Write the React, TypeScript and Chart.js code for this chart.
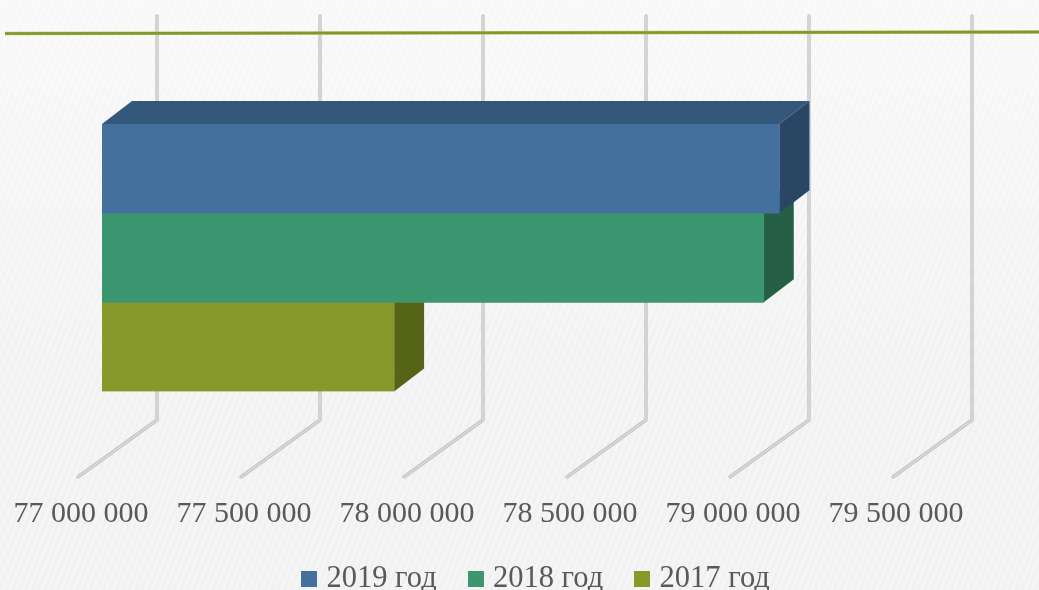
import React, { useEffect, useRef } from "react";
import { Chart, registerables } from "chart.js";

Chart.register(...registerables);

const categories = [""];
const seriesNames = ["2019 год", "2018 год", "2017 год"];
const values2019 = [79078000];
const values2018 = [79030000];
const values2017 = [77896000];
const axisMin = 77000000;
const axisMax = 79500000;
const axisStep = 500000;

const frontColors = ["#44709D", "#3C9770", "#86992A"];
const topColors = ["#34587A", "#2C7053", "#66751F"];
const sideColors = ["#294765", "#256046", "#566418"];

const DEPTH_X = 30;
const DEPTH_Y = 23;

const fmt = (v: number) => String(v).replace(/\B(?=(\d{3})+$)/g, " ");

const swatch = (color: string) => {
  const c = document.createElement("canvas");
  c.width = 16;
  c.height = 16;
  const g = c.getContext("2d") as CanvasRenderingContext2D;
  g.fillStyle = color;
  g.fillRect(0, 0, 16, 16);
  return c;
};

const decor = {
  id: "decor3d",
  afterLayout(chart: any) {
    // the legend is centred further right than the plot area
    chart.legend.left += 29;
    chart.legend.right += 29;
  },
  beforeDatasetsDraw(chart: any) {
    const { ctx, scales } = chart;
    const x = scales.x;
    ctx.save();
    ctx.lineCap = "round";
    ctx.lineJoin = "round";
    // wall and floor grid lines
    for (const t of x.ticks) {
      const px = x.getPixelForValue(t.value);
      const path = () => {
        ctx.beginPath();
        ctx.moveTo(px + 55, 16);
        ctx.lineTo(px + 55, 420);
        ctx.lineTo(px - 24, 477);
      };
      path();
      ctx.strokeStyle = "#c4c4c4";
      ctx.lineWidth = 3.4;
      ctx.stroke();
      path();
      ctx.strokeStyle = "#dcdcdc";
      ctx.lineWidth = 1.4;
      ctx.stroke();
    }
    // decorative rule
    ctx.lineCap = "butt";
    ctx.beginPath();
    ctx.moveTo(5, 33.5);
    ctx.lineTo(1039, 32);
    ctx.strokeStyle = "#B5C47A";
    ctx.lineWidth = 3.6;
    ctx.stroke();
    ctx.beginPath();
    ctx.moveTo(5, 33.5);
    ctx.lineTo(1039, 32);
    ctx.strokeStyle = "#7F9A25";
    ctx.lineWidth = 2.4;
    ctx.stroke();

    // 3D faces of bars, back to front
    for (let i = chart.data.datasets.length - 1; i >= 0; i--) {
      const el = chart.getDatasetMeta(i).data[0] as any;
      const left = x.left;
      const right = el.x;
      const top = el.y - el.height / 2;
      const bottom = el.y + el.height / 2;
      ctx.beginPath();
      ctx.moveTo(left, top);
      ctx.lineTo(left + DEPTH_X, top - DEPTH_Y);
      ctx.lineTo(right + DEPTH_X, top - DEPTH_Y);
      ctx.lineTo(right, top);
      ctx.closePath();
      ctx.fillStyle = topColors[i];
      ctx.fill();
      ctx.beginPath();
      ctx.moveTo(right, top);
      ctx.lineTo(right + DEPTH_X, top - DEPTH_Y);
      ctx.lineTo(right + DEPTH_X, bottom - DEPTH_Y);
      ctx.lineTo(right, bottom);
      ctx.closePath();
      ctx.fillStyle = sideColors[i];
      ctx.fill();
    }
    ctx.restore();
  },
};

export default function App() {
  const ref = useRef<HTMLCanvasElement>(null);
  useEffect(() => {
    const chart = new Chart(ref.current as HTMLCanvasElement, {
      type: "bar",
      data: {
        labels: categories,
        datasets: [
          { label: seriesNames[0], data: values2019, backgroundColor: frontColors[0] },
          { label: seriesNames[1], data: values2018, backgroundColor: frontColors[1] },
          { label: seriesNames[2], data: values2017, backgroundColor: frontColors[2] },
        ],
      },
      options: {
        indexAxis: "y",
        responsive: false,
        animation: false,
        events: [],
        layout: { padding: { left: 102, right: 122, top: 124, bottom: -14 } },
        datasets: { bar: { barPercentage: 1, categoryPercentage: 1 } },
        scales: {
          x: {
            min: axisMin,
            max: axisMax,
            grid: { display: false, drawTicks: false },
            border: { display: false },
            afterFit(scale: any) {
              scale.paddingLeft = 0;
              scale.paddingRight = 0;
              scale.height = 135;
            },
            ticks: {
              stepSize: axisStep,
              autoSkip: false,
              maxRotation: 0,
              minRotation: 0,
              padding: 104.5,
              labelOffset: -21,
              color: "#595959",
              font: { family: "'Liberation Serif'", size: 30 },
              callback: (v: any) => fmt(Number(v)),
            },
          },
          y: { display: false },
        },
        plugins: {
          title: { display: false },
          tooltip: { enabled: false },
          legend: {
            position: "bottom",
            labels: {
              usePointStyle: true,
              boxWidth: 4,
              boxHeight: 16,
              padding: 37,
              color: "#595959",
              font: { family: "'Liberation Serif'", size: 30.5 },
              generateLabels(c: any) {
                return (Chart.defaults.plugins.legend.labels as any)
                  .generateLabels(c)
                  .map((l: any, i: number) => ({ ...l, pointStyle: swatch(frontColors[i]) }));
              },
            },
          },
        },
      } as any,
      plugins: [decor],
    });
    return () => chart.destroy();
  }, []);
  return (
    <div
      style={{
        position: "fixed",
        left: 0,
        top: 0,
        width: 1039,
        height: 590,
        overflow: "hidden",
        background:
          "linear-gradient(180deg, rgba(255,255,255,0.5), rgba(255,255,255,0) 70%), repeating-linear-gradient(112deg, #f5f5f5 0 3px, #f1f1f1 3px 6px)",
      }}
    >
      <canvas ref={ref} width={1039} height={590} style={{ display: "block" }} />
    </div>
  );
}
